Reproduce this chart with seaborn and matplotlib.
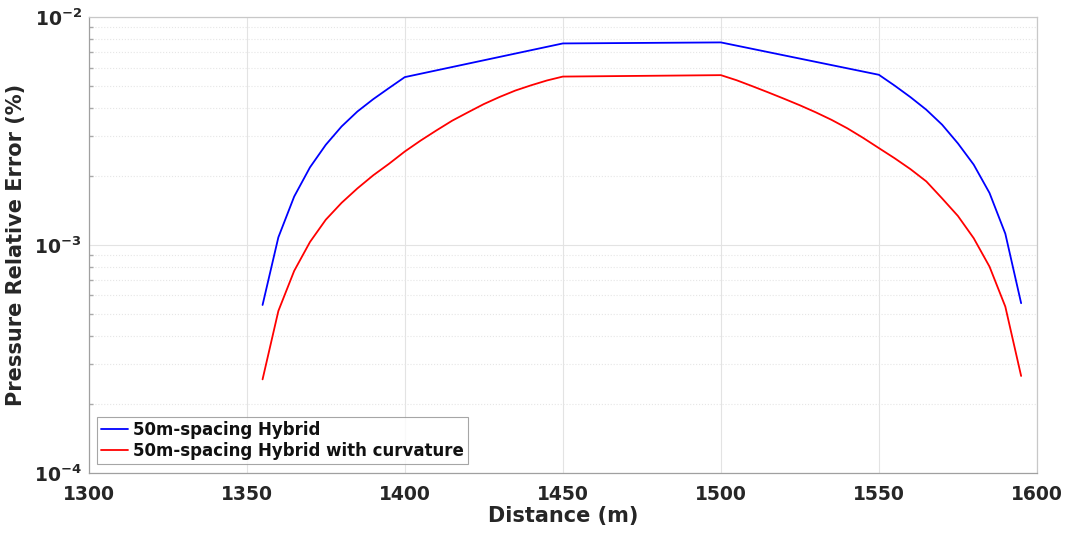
import numpy as np
import pandas as pd
import matplotlib
matplotlib.use("Agg")
import matplotlib.pyplot as plt
import seaborn as sns
from matplotlib.ticker import LogLocator, NullFormatter

# ---- data ----
blue_x = [1355, 1360, 1365, 1370, 1375, 1380, 1385, 1390, 1395, 1400,
          1450, 1500, 1550,
          1555, 1560, 1565, 1570, 1575, 1580, 1585, 1590, 1595]
blue_y = [5.45e-4, 1.08e-3, 1.63e-3, 2.19e-3, 2.75e-3, 3.31e-3, 3.85e-3, 4.36e-3, 4.88e-3, 5.45e-3,
          7.66e-3, 7.74e-3, 5.58e-3,
          5.00e-3, 4.45e-3, 3.92e-3, 3.37e-3, 2.79e-3, 2.25e-3, 1.69e-3, 1.12e-3, 5.55e-4]

red_x = [1355, 1360, 1365, 1370, 1375, 1380, 1385, 1390, 1395, 1400,
         1405, 1410, 1415, 1420, 1425, 1430, 1435, 1440, 1445, 1450,
         1500, 1505, 1510, 1515, 1520, 1525, 1530, 1535, 1540, 1545,
         1550, 1555, 1560, 1565, 1570, 1575, 1580, 1585, 1590, 1595]
red_y = [2.57e-4, 5.13e-4, 7.69e-4, 1.03e-3, 1.29e-3, 1.53e-3, 1.77e-3, 2.02e-3, 2.27e-3, 2.57e-3,
         2.87e-3, 3.18e-3, 3.51e-3, 3.82e-3, 4.15e-3, 4.46e-3, 4.76e-3, 5.02e-3, 5.27e-3, 5.48e-3,
         5.56e-3, 5.28e-3, 4.97e-3, 4.67e-3, 4.38e-3, 4.10e-3, 3.82e-3, 3.54e-3, 3.25e-3, 2.95e-3,
         2.66e-3, 2.40e-3, 2.15e-3, 1.90e-3, 1.60e-3, 1.34e-3, 1.07e-3, 8.03e-4, 5.36e-4, 2.66e-4]

labels = ["50m-spacing Hybrid", "50m-spacing Hybrid with curvature"]
x_ticks = [1300, 1350, 1400, 1450, 1500, 1550, 1600]

df = pd.concat([
    pd.DataFrame({"Distance": blue_x, "Error": blue_y, "Series": labels[0]}),
    pd.DataFrame({"Distance": red_x, "Error": red_y, "Series": labels[1]}),
], ignore_index=True)

sns.set_theme(style="white")
plt.rcParams['font.family'] = ['DejaVu Sans']

fig = plt.figure(figsize=(10.69, 5.33), dpi=100)
ax = fig.add_axes([0.083, 0.113, 0.887, 0.855])

sns.lineplot(data=df, x="Distance", y="Error", hue="Series",
             palette={labels[0]: "#0000ff", labels[1]: "#ff0000"},
             estimator=None, sort=False, linewidth=1.3, ax=ax)

ax.set_yscale("log")
ax.set_xlim(1300, 1600)
ax.set_ylim(1e-4, 1e-2)
ax.set_xticks(x_ticks)
ax.yaxis.set_major_locator(LogLocator(base=10, numticks=10))
ax.yaxis.set_minor_locator(LogLocator(base=10, subs=np.arange(2, 10), numticks=20))
ax.yaxis.set_minor_formatter(NullFormatter())

ax.grid(True, which="major", color="#e3e3e3", linewidth=0.8)
ax.grid(True, which="minor", axis="y", color="#e6e6e6", linestyle=":", linewidth=0.8)
ax.set_axisbelow(True)

for s in ax.spines.values():
    s.set_color("#c8c8c8")
    s.set_linewidth(0.9)
ax.spines["bottom"].set_color("#a0a0a0")
ax.spines["left"].set_color("#a0a0a0")

ax.tick_params(axis="both", which="major", direction="in", length=5, width=0.8,
               color="#888888", labelsize=13.5, labelcolor="#262626", top=False, right=False)
ax.tick_params(axis="x", which="major", pad=9)
ax.tick_params(axis="y", which="major", pad=5)
ax.tick_params(axis="y", which="minor", direction="in", length=3, color="#aaaaaa", left=True)
for lab in ax.get_xticklabels() + ax.get_yticklabels():
    lab.set_fontweight("bold")

ax.set_xlabel("Distance (m)", fontsize=15, fontweight="bold", color="#262626", labelpad=1)
ax.set_ylabel("Pressure Relative Error (%)", fontsize=15, fontweight="bold", color="#262626", labelpad=6)

leg = ax.legend(loc="lower left", frameon=True, fancybox=False,
                prop={"size": 12, "weight": "bold"},
                edgecolor="#909090", borderpad=0.25, handlelength=1.6, handletextpad=0.3,
                labelspacing=0.2, borderaxespad=0.5)
leg.get_frame().set_linewidth(0.8)
for t in leg.get_texts():
    t.set_color("#111111")

fig.savefig("out.png", dpi=100, facecolor="white")
